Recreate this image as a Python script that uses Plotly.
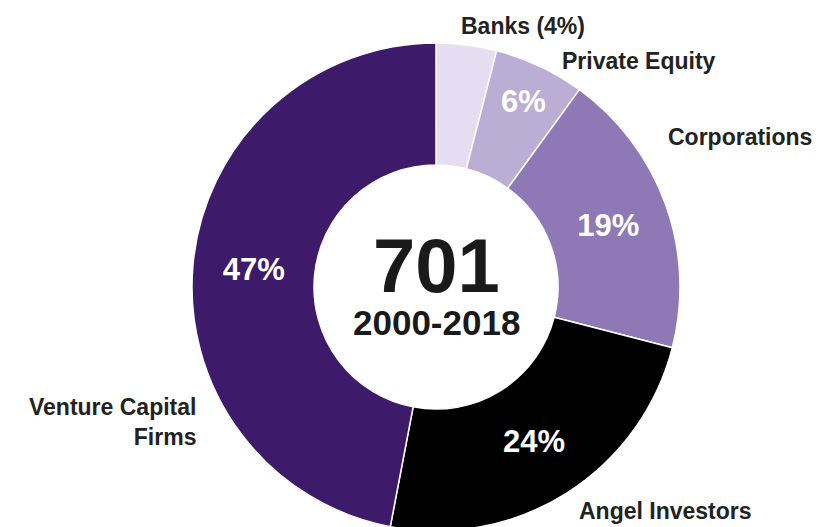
import plotly.graph_objects as go

# data
sources = ["Banks", "Private Equity", "Corporations", "Angel Investors", "Venture Capital Firms"]
shares = [4, 6, 19, 24, 47]
inside_labels = ["", "6%", "19%", "24%", "47%"]
total_deals = "701"
period = "2000-2018"

colors = ["#e6ddf3", "#bcadd5", "#8f78b6", "#000000", "#3e1a6a"]

W, H = 820, 527
OFF = 8  # page body margin shifts the figure by 8px
FONT = "Liberation Sans"


def px_x(x):
    return (x - OFF) / W


def px_y(y):
    return 1 - (y - OFF) / H


fig = go.Figure()

fig.add_trace(
    go.Pie(
        labels=sources,
        values=shares,
        text=inside_labels,
        texttemplate="<b>%{text}</b>",
        textposition="inside",
        insidetextorientation="horizontal",
        insidetextfont=dict(family=FONT, size=31, color="white"),
        hole=0.5,
        sort=False,
        direction="clockwise",
        rotation=0,
        marker=dict(colors=colors, line=dict(color="white", width=1.5)),
        domain=dict(x=[px_x(192), px_x(680)], y=[px_y(531), px_y(43)]),
        showlegend=False,
        hoverinfo="label+percent",
    )
)

# centre text
fig.add_annotation(x=px_x(436), y=px_y(266), xref="paper", yref="paper",
                   text="<b>" + total_deals + "</b>", showarrow=False,
                   xanchor="center", yanchor="middle",
                   font=dict(family=FONT, size=76, color="#1a1a1a"))
fig.add_annotation(x=px_x(436), y=px_y(322), xref="paper", yref="paper",
                   text="<b>" + period + "</b>", showarrow=False,
                   xanchor="center", yanchor="middle",
                   font=dict(family=FONT, size=35, color="#1a1a1a"))

# outside labels
outside = [
    ("Banks (%d%%)" % shares[0], 523, 26, "center"),
    ("Private Equity", 639, 61, "center"),
    ("Corporations", 740, 137, "center"),
    ("Angel Investors", 665, 511, "center"),
    ("Venture Capital<br>Firms", 198, 422, "right"),
]
for txt, px, py, anchor in outside:
    fig.add_annotation(x=px_x(px), y=px_y(py), xref="paper", yref="paper",
                       text="<b>" + txt + "</b>", showarrow=False,
                       xanchor=anchor, yanchor="middle", align=anchor,
                       font=dict(family=FONT, size=23, color="#222222"))

fig.update_layout(
    width=W, height=H,
    margin=dict(l=0, r=0, t=0, b=0),
    paper_bgcolor="white",
    plot_bgcolor="white",
)

fig.write_html("out.html")
